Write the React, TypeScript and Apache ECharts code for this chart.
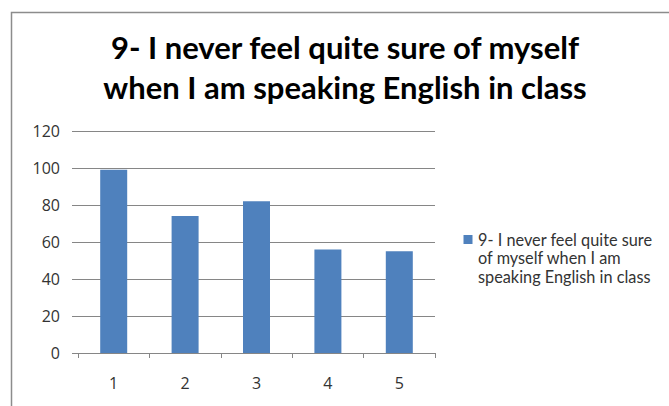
import React, { useEffect, useRef } from "react";
import * as echarts from "echarts";

const categories = ["1", "2", "3", "4", "5"];
const values = [99, 74, 82, 56, 55];
const seriesName = "9- I never feel quite sure of myself when I am speaking English in class";
const titleLines = ["9- I never feel quite sure of myself", "when I am speaking English in class"];
const legendLines = ["9- I never feel quite sure", "of myself when I am", "speaking English in class"];

export default function App() {
  const ref = useRef<HTMLDivElement>(null);
  useEffect(() => {
    const chart = echarts.init(ref.current!, null, { renderer: "svg" });
    const titleStyle = {
      textAlign: "center",
      textVerticalAlign: "middle",
      fontFamily: "Lato, 'Open Sans', sans-serif",
      fontWeight: "bold",
      fontSize: 31,
      fill: "#000000",
    };
    chart.setOption({
      animation: false,
      backgroundColor: "#ffffff",
      grid: { left: 78, right: 234, top: 131, bottom: 53, containLabel: false },
      xAxis: {
        type: "category",
        data: categories,
        boundaryGap: true,
        axisLine: { lineStyle: { color: "#868686", width: 1 } },
        axisTick: { show: true, length: 5, lineStyle: { color: "#868686" } },
        axisLabel: { color: "#333333", fontSize: 16, margin: 22, fontFamily: "'Open Sans', sans-serif" },
      },
      yAxis: {
        type: "value",
        min: 0,
        max: 120,
        interval: 20,
        axisLine: { show: false },
        axisTick: { show: true, length: 6, lineStyle: { color: "#868686" } },
        splitLine: { lineStyle: { color: "#868686", width: 1 } },
        axisLabel: { color: "#333333", fontSize: 16, margin: 18, fontFamily: "'Open Sans', sans-serif" },
      },
      series: [
        {
          name: seriesName,
          type: "bar",
          data: values,
          barWidth: 27,
          itemStyle: { color: "#4F81BD" },
        },
      ],
      graphic: [
        {
          type: "rect",
          shape: { x: 11.5, y: 12.5, width: 700, height: 420 },
          style: { fill: "none", stroke: "#8c8c8c", lineWidth: 1.5 },
          z: 100,
        },
        {
          type: "text",
          x: 345,
          y: 47,
          style: { ...titleStyle, text: titleLines[0] },
        },
        {
          type: "text",
          x: 345,
          y: 87,
          style: { ...titleStyle, text: titleLines[1] },
        },
        {
          type: "rect",
          shape: { x: 463.5, y: 235, width: 9, height: 9 },
          style: { fill: "#4F81BD" },
        },
        {
          type: "text",
          x: 478,
          y: 230.3,
          style: {
            text: legendLines.join("\n"),
            fontSize: 16.3,
            lineHeight: 18.3,
            fill: "#333333",
            fontFamily: "Lato, 'Open Sans', sans-serif",
          },
        },
      ],
    });
    return () => chart.dispose();
  }, []);
  return (
    <div
      ref={ref}
      style={{ position: "absolute", left: 0, top: 0, width: 669, height: 406 }}
    />
  );
}
